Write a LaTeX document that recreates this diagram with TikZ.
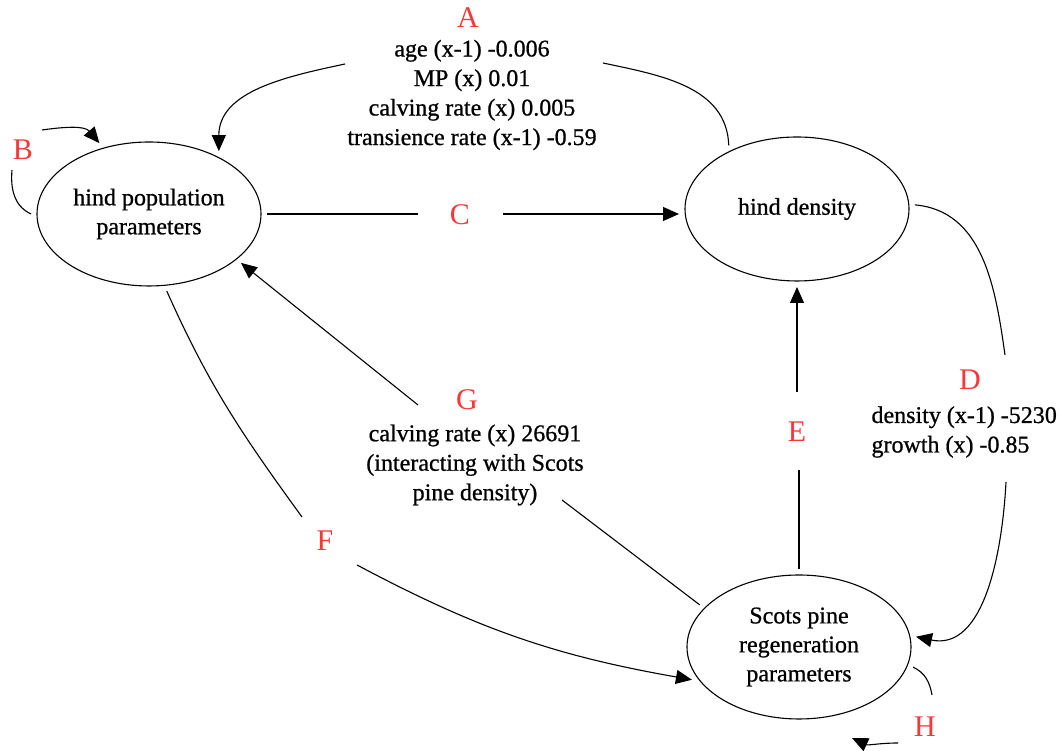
\documentclass[tikz,border=0pt]{standalone}
\usepackage{fontspec}
\setmainfont[FakeBold=0.8]{Liberation Serif}
\newfontfamily\letterfont{Liberation Serif}
\usetikzlibrary{shapes.geometric, arrows.meta}
\definecolor{labred}{RGB}{250,55,55}

\begin{document}
\begin{tikzpicture}[x=1pt, y=1pt,
		state/.style={draw, ellipse, line width=1.1pt, minimum width=224pt, minimum height=144pt, inner sep=0pt, outer sep=6pt, align=center, font=\fontsize{24}{29}\selectfont},
		coef/.style={align=center, font=\fontsize{24}{29.5}\selectfont},
		letter/.style={text=labred, inner sep=0pt, font=\letterfont\fontsize{30}{30}\selectfont},
		link/.style={line width=1.1pt},
		arr/.style={line width=1.1pt, -{Triangle[length=16pt,width=14pt]}}]
		\useasboundingbox (0,0) rectangle (1061,751);

		% Draw the three states
		\node[state] (hp) at (149,537) {hind population\\parameters};
		\node[state] (hd) at (797,542) {hind density};
		\node[state] (sp) at (799,104) {Scots pine\\regeneration\\parameters};

		% Labels and coefficients
		\node[letter] (labA) at (468,733) {A};
		\node[coef] (txtA) at (472,656) {age (x-1) -0.006\\MP (x) 0.01\\calving rate (x) 0.005\\transience rate (x-1) -0.59};
		\node[letter] (labB) at (23,601) {B};
		\node[letter] (labC) at (460,536) {C};
		\node[letter] (labD) at (970,371) {D};
		\node[coef, align=left, anchor=west] (txtD) at (868,319) {density (x-1) -5230\\growth (x) -0.85};
		\node[letter] (labE) at (797,319) {E};
		\node[letter] (labF) at (325,210) {F};
		\node[letter] (labG) at (467,351) {G};
		\node[coef] (txtG) at (475,286) {calving rate (x) 26691\\(interacting with Scots\\pine density)};
		\node[letter] (labH) at (925,24) {H};

		% Free ends of the connectors
		\coordinate (a1) at (603,688);
		\coordinate (a2) at (345,687);
		\coordinate (b1) at (12,581);
		\coordinate (b2) at (42,621);
		\coordinate (c1) at (418,537);
		\coordinate (c2) at (503,537);
		\coordinate (d1) at (1005,396);
		\coordinate (d2) at (1006,269);
		\coordinate (e1) at (797,359);
		\coordinate (e2) at (799,281);
		\coordinate (f1) at (302,234);
		\coordinate (f2) at (357,186);
		\coordinate (g1) at (418,346);
		\coordinate (g2) at (562,251);
		\coordinate (h1) at (932,56);
		\coordinate (h2) at (898,8);
		\coordinate (h3) at (852,13);

		% A
		\draw[link] (hd.137) to[out=92, in=-12] (a1);
		\draw[arr] (a2) to[out=192, in=90] (hp.42);
		% B
		\draw[link] (b1) to[out=-95, in=155] (hp.west);
		\draw[arr] (b2) to[out=8, in=130] (hp.125);
		% C
		\draw[link] (hp.east) -- (c1);
		\draw[arr] (c2) -- (c2 -| hd.west);
		% D
		\draw[link] (hd.2) to[out=-5, in=98] (d1);
		\draw[arr] (d2) to[out=-93, in=-12] (sp.5);
		% E
		\draw[arr] (e1) -- (hd.south);
		\draw[link] (sp.north) -- (e2);
		% F
		\draw[link] (hp.-77) to[out=-66, in=126] (f1);
		\draw[arr] (f2) to[out=-28, in=170] (sp.197);
		% G
		\draw[arr] (g1) -- (hp.-28);
		\draw[link] (g2) -- (sp.157);
		% H
		\draw[link] (sp.-10) to[out=-25, in=100] (h1);
		\draw[arr] (h2) to[out=180, in=-25] (h3);

	\end{tikzpicture}
\end{document}
